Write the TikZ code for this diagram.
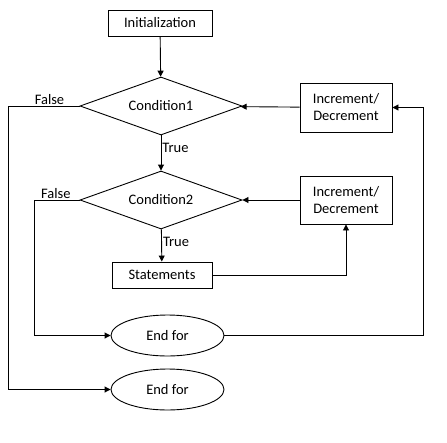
\documentclass[tikz,border=0pt]{standalone}
\usepackage{fontspec}
\setmainfont{Carlito}
\usetikzlibrary{shapes.geometric,arrows.meta}
\begin{document}
\begin{tikzpicture}[x=1pt,y=-1pt,
  every node/.style={font=\fontsize{14.5}{17}\selectfont},
  box/.style={draw,line width=0.9pt,inner sep=0pt,align=center},
  cond/.style={draw,diamond,line width=0.9pt,inner sep=0pt,aspect=2.79,minimum width=162pt,minimum height=58pt},
  term/.style={draw,ellipse,line width=0.9pt,inner sep=0pt,minimum width=113pt,minimum height=41pt},
  lbl/.style={inner sep=1pt},
  conn/.style={line width=0.9pt,-{Triangle[length=6pt,width=6pt]}},
  plain/.style={line width=0.9pt}]
\useasboundingbox (0,0) rectangle (447,442);
\node[box,minimum width=104pt,minimum height=26pt] (init) at (160,23) {Initialization};
\node[cond] (c1) at (161,106) {Condition1};
\node[cond] (c2) at (161,200) {Condition2};
\node[box,minimum width=100pt,minimum height=26pt] (stmt) at (162,275) {Statements};
\node[box,minimum width=92pt,minimum height=49pt] (inc1) at (346,107.5) {Increment/\\Decrement};
\node[box,minimum width=92pt,minimum height=48pt] (inc2) at (346,200) {Increment/\\Decrement};
\node[term] (e1) at (167.5,335.5) {End for};
\node[term] (e2) at (167.5,389.5) {End for};
\coordinate (L1) at (8,106);
\coordinate (L2) at (34,200);
\coordinate (R1) at (423,335.5);
\draw[conn] (init) -- (c1);
\draw[conn] (c1) -- node[lbl,right,pos=0.35] {True} (c2);
\draw[conn] (c2) -- node[lbl,right,pos=0.4] {True} (stmt);
\draw[conn] (inc1) -- (c1);
\draw[conn] (inc2) -- (c2);
\draw[conn] (stmt.east) -| (inc2.south);
\draw[conn] (c1.west) -- node[lbl,above,pos=0.42] {False} (L1) |- (e2.west);
\draw[conn] (c2.west) -- node[lbl,above,pos=0.52] {False} (L2) |- (e1.west);
\draw[conn] (e1.east) -- (R1) |- (inc1.east);
\end{tikzpicture}
\end{document}
